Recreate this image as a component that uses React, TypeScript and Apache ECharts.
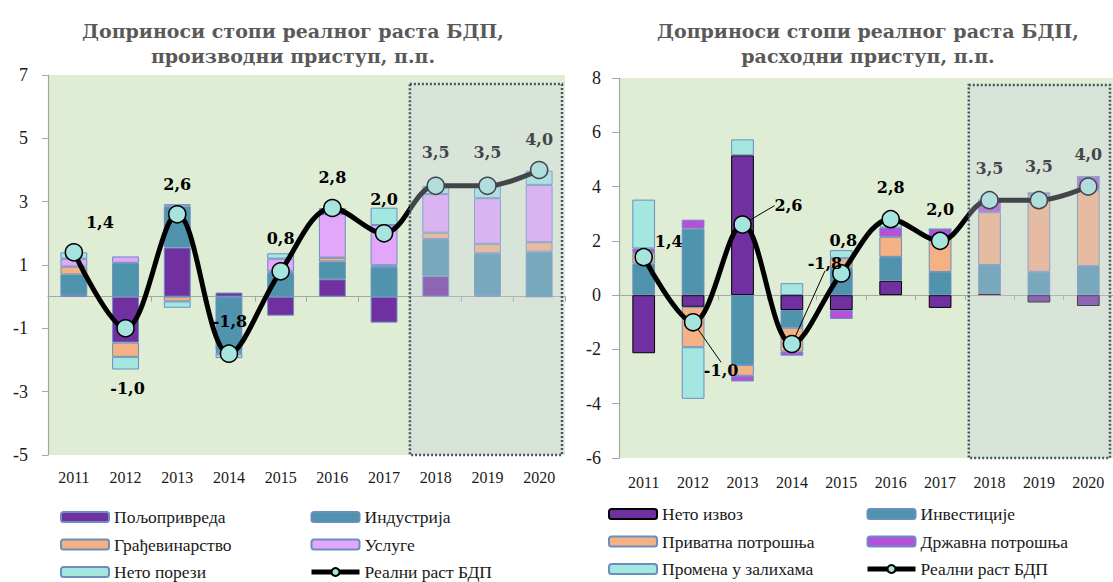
import React, { useEffect, useRef } from 'react';
import * as echarts from 'echarts';

// ---------- data ----------
const YEARS = ['2011', '2012', '2013', '2014', '2015', '2016', '2017', '2018', '2019', '2020'];
const PROJECTION_START = '2018';
const GDP = [1.4, -1.0, 2.6, -1.8, 0.8, 2.8, 2.0, 3.5, 3.5, 4.0];

// production approach
const AGRICULTURE = [0.05, -1.45, 1.55, 0.13, -0.6, 0.55, -0.82, 0.65, 0.05, 0];
const INDUSTRY = [0.65, 1.07, 1.3, -1.72, 0.75, 0.56, 0.93, 1.17, 1.32, 1.42];
const CONSTRUCTION = [0.25, -0.45, -0.15, -0.03, 0.05, 0.12, 0.06, 0.2, 0.3, 0.3];
const SERVICES = [0.25, 0.2, 0.07, -0.07, 0.4, 1.38, 1.27, 1.22, 1.44, 1.81];
const NET_TAXES = [0.2, -0.4, -0.2, -0.12, 0.17, 0.19, 0.55, 0.26, 0.37, 0.45];

// expenditure approach
const NET_EXPORTS = [-2.14, -0.43, 5.15, -0.55, -0.55, 0.53, -0.47, 0.06, -0.27, -0.4];
const INVESTMENT = [1.16, 2.45, -2.57, -0.65, 1.0, 0.88, 0.85, 1.05, 0.86, 1.07];
const PRIVATE_CONS = [0.39, -1.49, -0.4, -0.88, 0.36, 0.74, 1.3, 1.95, 2.84, 2.79];
const GOV_CONS = [0.17, 0.33, -0.21, -0.15, -0.33, 0.34, 0.28, 0.44, 0.06, 0.5];
const INVENTORIES = [1.8, -1.9, 0.59, 0.44, 0.3, 0.29, 0, 0, 0, 0];

const LEFT_Y_TICKS = [-5, -3, -1, 1, 3, 5, 7];
const RIGHT_Y_TICKS = [-6, -4, -2, 0, 2, 4, 6, 8];

const LEFT_TITLE = 'Доприноси стопи реалног раста БДП,\nпроизводни приступ, п.п.';
const RIGHT_TITLE = 'Доприноси стопи реалног раста БДП,\nрасходни приступ, п.п.';
const GDP_NAME = 'Реални раст БДП';

// ---------- styling ----------
const PURPLE = '#7030A0';
const TEAL = '#4F94AC';
const ORANGE = '#F4B183';
const LILAC = '#E2A6FA';
const MAGENTA = '#B64FDA';
const AQUA = '#A3E7E0';
const BORDER = '#6A8EC0';
const MARKER = '#A6E4DD';
const PLOT_BG = '#E0EDD5';
const AXIS_GRAY = '#A6A6A6';
const SERIF = 'Liberation Serif';
const BOLD_SERIF = 'DejaVu Serif';

const LEFT_LABEL_OFFSETS = [[26, -30], [2, 60], [0, -30], [1, -32], [0, -33], [0, -31], [0, -34], [0, -33], [0, -33], [0, -31]];
const RIGHT_LABEL_OFFSETS = [[25, -16], [28, 48], [46, -19], [33, -81], [2, -33], [0, -32], [0, -31], [0, -32], [0, -34], [0, -32]];
const RIGHT_LEADERS = [1, 2, 3];

const fmt = (v: number) => v.toFixed(1).replace('.', ',');

function barSeries(name: string, data: number[], color: string, g: number, borderColor: string, barWidth: string) {
  return {
    name,
    type: 'bar',
    stack: 'stack' + g,
    data,
    xAxisIndex: g * 2,
    yAxisIndex: g,
    barWidth,
    itemStyle: { color, borderColor, borderWidth: 1 },
    z: 2,
  };
}

function lineSeries(g: number, offsets: number[][], leaders: number[]) {
  return {
    name: GDP_NAME,
    type: 'line',
    xAxisIndex: g * 2,
    yAxisIndex: g,
    data: GDP.map((v, i) => ({ value: v, labelLine: { show: leaders.includes(i) } })),
    smooth: 0.35,
    symbol: 'circle',
    symbolSize: 17,
    lineStyle: { color: '#000', width: 5 },
    itemStyle: { color: MARKER, borderColor: '#000', borderWidth: 1.5 },
    label: {
      show: true,
      position: 'inside',
      formatter: (p: any) => fmt(p.value),
      fontFamily: BOLD_SERIF,
      fontWeight: 'bold',
      fontSize: 16,
      color: '#000',
    },
    labelLine: { show: false, lineStyle: { color: '#000', width: 1 } },
    labelLayout: (p: any) => ({ dx: offsets[p.dataIndex][0], dy: offsets[p.dataIndex][1] }),
    z: 5,
  };
}

function boxSeries(g: number, startShift: number, topInset: number) {
  return {
    type: 'custom',
    xAxisIndex: g * 2,
    yAxisIndex: g,
    silent: true,
    z: 20,
    data: [[PROJECTION_START, 0]],
    encode: { x: 0, y: 1 },
    renderItem: (params: any, api: any) => {
      const cs = params.coordSys;
      const band = api.size([1, 0])[0];
      const x0 = api.coord([api.value(0), 0])[0] - band / 2 + startShift;
      const x1 = cs.x + cs.width - 3;
      const y0 = cs.y + topInset;
      const y1 = cs.y + cs.height;
      return {
        type: 'rect',
        shape: { x: x0, y: y0, width: x1 - x0, height: y1 - y0 },
        style: { fill: 'rgba(200,210,222,0.33)', stroke: '#44546A', lineWidth: 2.5, lineDash: [2, 2] },
      };
    },
  };
}

function axesFor(g: number) {
  const labelAxis = {
    type: 'category',
    gridIndex: g,
    data: YEARS,
    position: 'bottom',
    axisLine: { show: false, onZero: false },
    axisTick: { show: false },
    axisLabel: { fontFamily: SERIF, fontSize: 16, color: '#1a1a1a', margin: g === 0 ? 14 : 16 },
  };
  const zeroAxis = {
    type: 'category',
    gridIndex: g,
    data: YEARS,
    position: 'top',
    axisLine: { show: true, onZero: true, lineStyle: { color: AXIS_GRAY, width: 1.2 } },
    axisTick: { show: true, inside: true, length: 5, lineStyle: { color: AXIS_GRAY } },
    axisLabel: { show: false },
  };
  return [labelAxis, zeroAxis];
}

function buildOption() {
  const legendText = { fontFamily: SERIF, fontSize: 17.5, color: '#1a1a1a', lineHeight: 18 };
  const legendBase = {
    orient: 'vertical',
    itemWidth: 48,
    itemHeight: 10,
    itemGap: 9.5,
    padding: 0,
    height: 100,
    selectedMode: false,
    textStyle: legendText,
  };
  const gdpLegendItem = { name: GDP_NAME, lineStyle: { width: 5, color: '#000' } };
  const titleStyle = { fontFamily: BOLD_SERIF, fontWeight: 'bold', fontSize: 19, color: '#595959', lineHeight: 25 };
  const yAxisBase = {
    type: 'value',
    axisLine: { show: true, lineStyle: { color: AXIS_GRAY, width: 1.2 } },
    splitLine: { show: false },
  };
  return {
    animation: false,
    backgroundColor: '#ffffff',
    title: [
      { text: LEFT_TITLE, left: 288, top: 13, textAlign: 'center', textStyle: titleStyle },
      { text: RIGHT_TITLE, left: 863, top: 13, textAlign: 'center', textStyle: titleStyle },
    ],
    grid: [
      { left: 48, top: 75, width: 517, height: 380, show: true, backgroundColor: PLOT_BG, borderWidth: 0, containLabel: false },
      { left: 619, top: 78, width: 494, height: 380, show: true, backgroundColor: PLOT_BG, borderWidth: 0, containLabel: false },
    ],
    xAxis: [...axesFor(0), ...axesFor(1)],
    yAxis: [
      {
        ...yAxisBase,
        gridIndex: 0,
        min: -5,
        max: 7,
        axisTick: { show: true, length: 6, customValues: LEFT_Y_TICKS, lineStyle: { color: AXIS_GRAY } },
        axisLabel: { customValues: LEFT_Y_TICKS, fontFamily: SERIF, fontSize: 18, color: '#1a1a1a', margin: 20 },
      },
      {
        ...yAxisBase,
        gridIndex: 1,
        min: RIGHT_Y_TICKS[0],
        max: RIGHT_Y_TICKS[RIGHT_Y_TICKS.length - 1],
        interval: 2,
        axisTick: { show: true, length: 7, lineStyle: { color: AXIS_GRAY } },
        axisLabel: { fontFamily: SERIF, fontSize: 18, color: '#1a1a1a', margin: 18 },
      },
    ],
    legend: [
      { ...legendBase, left: 60, top: 508, data: ['Пољопривреда', 'Грађевинарство', 'Нето порези'] },
      { ...legendBase, left: 309, top: 508, data: ['Индустрија', 'Услуге', gdpLegendItem] },
      { ...legendBase, left: 608, top: 505, data: ['Нето извоз', 'Приватна потрошња', 'Промена у залихама'] },
      { ...legendBase, left: 865, top: 505, data: ['Инвестиције', 'Државна потрошња', gdpLegendItem] },
    ],
    series: [
      barSeries('Пољопривреда', AGRICULTURE, PURPLE, 0, BORDER, '52%'),
      barSeries('Индустрија', INDUSTRY, TEAL, 0, BORDER, '52%'),
      barSeries('Грађевинарство', CONSTRUCTION, ORANGE, 0, BORDER, '52%'),
      barSeries('Услуге', SERVICES, LILAC, 0, BORDER, '52%'),
      barSeries('Нето порези', NET_TAXES, AQUA, 0, BORDER, '52%'),
      lineSeries(0, LEFT_LABEL_OFFSETS, []),
      boxSeries(0, 0, 9),
      barSeries('Нето извоз', NET_EXPORTS, PURPLE, 1, '#000000', '46%'),
      barSeries('Инвестиције', INVESTMENT, TEAL, 1, BORDER, '46%'),
      barSeries('Приватна потрошња', PRIVATE_CONS, ORANGE, 1, BORDER, '46%'),
      barSeries('Државна потрошња', GOV_CONS, MAGENTA, 1, BORDER, '46%'),
      barSeries('Промена у залихама', INVENTORIES, AQUA, 1, BORDER, '46%'),
      lineSeries(1, RIGHT_LABEL_OFFSETS, RIGHT_LEADERS),
      boxSeries(1, 4, 7),
    ],
  };
}

export default function App() {
  const ref = useRef<HTMLDivElement>(null);
  useEffect(() => {
    if (!ref.current) return;
    const chart = echarts.init(ref.current, null, { renderer: 'svg' });
    chart.setOption(buildOption() as any);
    return () => chart.dispose();
  }, []);
  return (
    <div
      ref={ref}
      style={{ position: 'absolute', left: 0, top: 0, width: 1113, height: 582, background: '#fff' }}
    />
  );
}
